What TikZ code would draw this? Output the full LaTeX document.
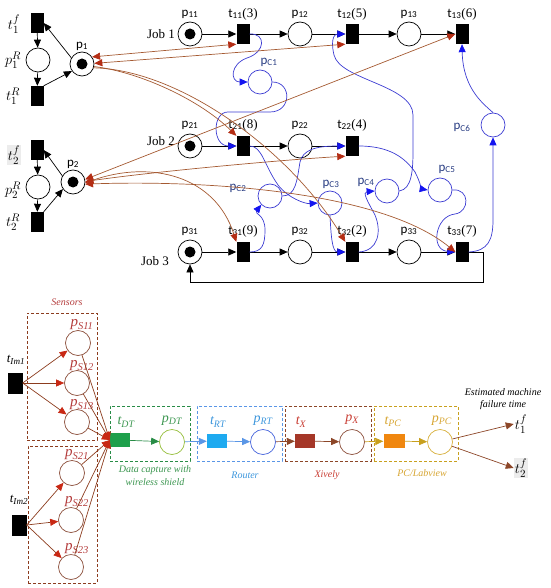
\documentclass[tikz,border=0pt]{standalone}
\usepackage{fontspec}
\setmainfont{Liberation Serif}
\newfontfamily\calfont{Carlito}
\usetikzlibrary{arrows.meta}
\definecolor{barc}{RGB}{60,60,210}
\definecolor{btip}{RGB}{20,20,240}
\definecolor{rarc}{RGB}{165,90,50}
\definecolor{rtip}{RGB}{180,45,20}
\definecolor{pccol}{RGB}{40,60,130}
\definecolor{sline}{RGB}{140,60,30}
\definecolor{stip}{RGB}{200,40,20}
\definecolor{stext}{RGB}{180,60,60}
\definecolor{gfill}{RGB}{30,160,75}
\definecolor{gcirc}{RGB}{150,190,60}
\definecolor{gtext}{RGB}{60,150,80}
\definecolor{gline}{RGB}{40,140,70}
\definecolor{bfill}{RGB}{30,170,240}
\definecolor{bcirc}{RGB}{70,100,220}
\definecolor{btext}{RGB}{60,150,220}
\definecolor{bline}{RGB}{90,150,230}
\definecolor{xfill}{RGB}{165,55,40}
\definecolor{xcirc}{RGB}{140,80,60}
\definecolor{xtext}{RGB}{200,60,50}
\definecolor{xline}{RGB}{140,70,40}
\definecolor{ofill}{RGB}{240,135,15}
\definecolor{ocirc}{RGB}{215,175,60}
\definecolor{otext}{RGB}{215,165,50}
\definecolor{oline}{RGB}{200,160,30}
\newcommand{\pp}[1]{{\calfont p}\textsubscript{\calfont #1}}
\newcommand{\tl}[2]{{\calfont t}\textsubscript{\calfont #1}(#2)}
\tikzset{
 place/.style={circle,draw,line width=0.7pt,minimum size=24pt,inner sep=0pt},
 trans/.style={rectangle,fill=black,minimum width=13pt,minimum height=20pt,inner sep=0pt},
 arr/.style={line width=0.7pt,-{Triangle[length=8pt,width=7pt]}},
 blarc/.style={draw=barc,line width=0.7pt,-{Triangle[length=8pt,width=7pt,color=btip]}},
 brone/.style={draw=rarc,line width=0.7pt,-{Triangle[length=8pt,width=7pt,color=rtip]}},
 brtwo/.style={draw=rarc,line width=0.7pt,{Triangle[length=8pt,width=7pt,color=rtip]}-{Triangle[length=8pt,width=7pt,color=rtip]}},
 lab/.style={inner sep=1pt},
 mlab/.style={inner sep=1pt,font=\fontsize{15}{17}\selectfont},
 sbox/.style={draw=#1,dashed,dash pattern=on 3pt off 2pt,line width=0.6pt,inner sep=0pt},
 bplace/.style={circle,draw=#1,line width=0.7pt,minimum size=25pt,inner sep=0pt},
 btrans/.style={rectangle,fill=#1,minimum width=20pt,minimum height=14pt,inner sep=0pt},
 carr/.style={draw=#1,line width=0.7pt,-{Triangle[length=8pt,width=7pt,color=#1]}},
 sarr/.style={draw=sline,line width=0.7pt,-{Triangle[length=8pt,width=7pt,color=stip]}},
 itl/.style={font=\fontsize{10}{12}\selectfont\itshape,inner sep=0pt}
}
\begin{document}
\begin{tikzpicture}[x=1pt,y=-1pt,font=\fontsize{13}{15}\selectfont]
\useasboundingbox (0,0) rectangle (550,588);

% ---------- resource loops ----------
\node[trans] (t1f) at (37,23) {};
\node[place] (p1R) at (38,60) {};
\node[trans] (t1R) at (37,96) {};
\node[place] (p1) at (82,64) {};
\fill (p1.center) circle[radius=5.5pt];
\node[trans] (t2f) at (37,150) {};
\node[place] (p2R) at (38,187) {};
\node[trans] (t2R) at (37,222) {};
\node[place] (p2) at (73,182) {};
\fill (p2.center) circle[radius=5.5pt];

\node[mlab] (l1f) at (14,24) {$t_1^f$};
\node[mlab] (l1R) at (13,60) {$p_1^R$};
\node[mlab] (l1tR) at (13,96) {$t_1^R$};
\node[mlab,fill=gray!15] (l2f) at (14,155) {$t_2^f$};
\node[mlab] (l2R) at (13,190) {$p_2^R$};
\node[mlab] (l2tR) at (13,222) {$t_2^R$};
\node[lab] (lp1) at (82,46) {\pp{1}};
\node[lab] (lp2) at (73,164) {\pp{2}};

\draw[arr] (t1f) -- (p1R);
\draw[arr] (p1R) -- (t1R);
\draw[arr] (t1R.north east) -- (p1.215);
\draw[arr] (p1.150) -- (t1f.east);
\draw[arr] (t2f) -- (p2R);
\draw[arr] (p2R) -- (t2R);
\draw[arr] (t2R.north east) -- (p2.215);
\draw[arr] (p2.150) -- (t2f.east);

% ---------- job rows ----------
\node[place] (p11) at (190,34) {};
\fill (p11.center) circle[radius=5.5pt];
\node[trans] (t11) at (243,34) {};
\node[place] (p12) at (300,34) {};
\node[trans] (t12) at (352,34) {};
\node[place] (p13) at (409,34) {};
\node[trans] (t13) at (462,34) {};

\node[place] (p21) at (190,146) {};
\fill (p21.center) circle[radius=5.5pt];
\node[trans] (t21) at (243,146) {};
\node[place] (p22) at (300,146) {};
\node[trans] (t22) at (352,146) {};

\node[place] (p31) at (190,252) {};
\fill (p31.center) circle[radius=5.5pt];
\node[trans] (t31) at (243,252) {};
\node[place] (p32) at (300,252) {};
\node[trans] (t32) at (352,252) {};
\node[place] (p33) at (409,252) {};
\node[trans] (t33) at (462,252) {};

\node[lab] (j1) at (161,34) {Job 1};
\node[lab] (j2) at (161,141) {Job 2};
\node[lab] (j3) at (155,261) {Job 3};

\node[lab] (lp11) at (190,14) {\pp{11}};
\node[lab] (lt11) at (243,14) {\tl{11}{3}};
\node[lab] (lp12) at (300,14) {\pp{12}};
\node[lab] (lt12) at (352,14) {\tl{12}{5}};
\node[lab] (lp13) at (409,14) {\pp{13}};
\node[lab] (lt13) at (462,14) {\tl{13}{6}};
\node[lab] (lp21) at (190,125) {\pp{21}};
\node[lab] (lt21) at (243,125) {\tl{21}{8}};
\node[lab] (lp22) at (300,125) {\pp{22}};
\node[lab] (lt22) at (352,125) {\tl{22}{4}};
\node[lab] (lp31) at (190,231) {\pp{31}};
\node[lab] (lt31) at (243,231) {\tl{31}{9}};
\node[lab] (lp32) at (300,231) {\pp{32}};
\node[lab] (lt32) at (352,231) {\tl{32}{2}};
\node[lab] (lp33) at (409,231) {\pp{33}};
\node[lab] (lt33) at (462,231) {\tl{33}{7}};

\foreach \a/\b in {p11/t11,t11/p12,p12/t12,t12/p13,p13/t13,p21/t21,t21/p22,p22/t22,p31/t31,t31/p32,p32/t32,t32/p33,p33/t33}
  \draw[arr] (\a) -- (\b);
\coordinate (loop) at (483,282);
\draw[arr] (t33.east) -| (loop) -| (p31.south);

% ---------- control places ----------
\node[place,draw=barc] (pC1) at (260,82) {};
\node[place,draw=barc] (pC2) at (270,196) {};
\node[place,draw=barc] (pC3) at (330,203) {};
\node[place,draw=barc] (pC4) at (387,191) {};
\node[place,draw=barc] (pC5) at (440,190) {};
\node[place,draw=barc] (pC6) at (493,125) {};
\node[lab,text=pccol] (lC1) at (269,62) {\pp{C1}};
\node[lab,text=pccol] (lC2) at (238,188) {\pp{C2}};
\node[lab,text=pccol] (lC3) at (331,184) {\pp{C3}};
\node[lab,text=pccol] (lC4) at (366,182) {\pp{C4}};
\node[lab,text=pccol] (lC5) at (447,169) {\pp{C5}};
\node[lab,text=pccol] (lC6) at (462,127) {\pp{C6}};

\draw[blarc] (t11.east) .. controls (266,33) and (266,52) .. (247,58) .. controls (230,64) and (230,82) .. (pC1.west);
\draw[blarc] (pC1.east) .. controls (292,82) and (292,112) .. (270,112) -- (228,112) .. controls (212,112) and (212,146) .. (t21.west);
\draw[blarc] (pC4.east) .. controls (412,189) and (413,170) .. (413,150) -- (413,115) .. controls (413,85) and (340,80) .. (334,55) .. controls (330,38) and (335,34) .. (t12.west);
\draw[blarc] (t21.east) .. controls (262,146) and (264,165) .. (278,185) .. controls (288,198) and (305,204) .. (pC3.west);
\draw[blarc] (pC2.east) .. controls (296,196) and (297,180) .. (300,162) .. controls (303,150) and (315,146) .. (t22.west);
\draw[blarc] (t22.east) .. controls (390,146) and (405,158) .. (415,172) .. controls (420,182) and (422,189) .. (pC5.west);
\draw[blarc] (t32.east) .. controls (378,251) and (382,232) .. (375,215) .. controls (368,202) and (362,192) .. (pC4.west);
\draw[blarc] (pC5.east) .. controls (470,188) and (470,212) .. (455,214) .. controls (435,216) and (430,250) .. (t33.west);
\draw[blarc] (t33.east) .. controls (488,251) and (493,240) .. (493,220) -- (pC6.south);
\draw[blarc] (pC6.north) .. controls (485,105) and (463,90) .. (t13.south);
\draw[blarc] (t31.east) .. controls (262,252) and (265,245) .. (265,230) .. controls (265,214) and (254,214) .. (pC2.225);
\draw[blarc] (pC3.south) .. controls (331,235) and (332,252) .. (t32.west);

% ---------- resource arcs ----------
\draw[brtwo] (p1.35) -- (t11.south west);
\draw[brtwo] (p1.3) -- (t12.south west);
\draw[brone] (p1.-12) .. controls (140,72) and (200,100) .. (t21.north west);
\draw[brone] (p1.-18) .. controls (180,70) and (290,150) .. (t32.north west);
\draw[brtwo] (p2.12) -- (t13.west);
\draw[brtwo] (p2.2) .. controls (150,172) and (280,160) .. (t22.south west);
\draw[brtwo] (p2.-4) .. controls (150,160) and (215,175) .. (t31.north west);
\draw[brtwo] (p2.-10) .. controls (200,180) and (380,190) .. (t33.west);

% ---------- bottom: sensors ----------
\node[sbox=sline,minimum width=70pt,minimum height=127pt] (box1) at (62,376.5) {};
\node[sbox=sline,minimum width=69pt,minimum height=137pt] (box2) at (62.5,514.5) {};
\node[itl,text=stext] (lsens) at (67,302) {Sensors};

\node[trans,minimum width=15pt,minimum height=21pt] (tIm1) at (15,383) {};
\node[trans,minimum width=15pt,minimum height=21pt] (tIm2) at (19,525) {};
\node[lab,font=\fontsize{13}{15}\selectfont\itshape] (ltIm1) at (16,360) {t\textsubscript{Im1}};
\node[lab,font=\fontsize{13}{15}\selectfont\itshape] (ltIm2) at (19,500) {t\textsubscript{Im2}};

\node[bplace=xcirc] (pS11) at (78,343) {};
\node[bplace=xcirc] (pS12) at (77,383) {};
\node[bplace=xcirc] (pS13) at (77,422) {};
\node[bplace=xcirc] (pS21) at (72,473) {};
\node[bplace=xcirc] (pS22) at (71,520) {};
\node[bplace=xcirc] (pS23) at (71,567) {};
\foreach \n/\x/\y in {11/82/325,12/82/366,13/82/405,21/77/455,22/77/502,23/77/549}
  \node[lab,text=stext,font=\fontsize{15}{17}\selectfont\itshape] (lS\n) at (\x,\y) {p\textsubscript{S\n}};

\foreach \s in {11,12,13} \draw[sarr] (tIm1.east) -- (pS\s);
\foreach \s in {21,22,23} \draw[sarr] (tIm2.east) -- (pS\s);

% ---------- bottom: chain ----------
\node[sbox=gline,minimum width=80pt,minimum height=55pt] (gbox) at (150,433.5) {};
\node[sbox=bline,minimum width=85pt,minimum height=55pt] (bbox) at (239.5,433.5) {};
\node[sbox=xline,minimum width=86pt,minimum height=55pt] (xbox) at (328,433.5) {};
\node[sbox=oline,minimum width=84pt,minimum height=55pt] (obox) at (416,433.5) {};

\node[btrans=gfill] (tDT) at (120,440) {};
\node[bplace=gcirc] (pDT) at (172,442) {};
\node[btrans=bfill] (tRT) at (217,441) {};
\node[bplace=bcirc] (pRT) at (263,442) {};
\node[btrans=xfill] (tX) at (305,441) {};
\node[bplace=xcirc] (pX) at (352,442) {};
\node[btrans=ofill,minimum width=21pt] (tPC) at (394,441) {};
\node[bplace=ocirc] (pPC) at (440,442) {};

\foreach \s in {11,12,13,21,22,23} \draw[sarr] (pS\s) -- (tDT.west);

\draw[carr=gline] (tDT) -- (pDT);
\draw[carr=bline] (pDT) -- (tRT);
\draw[carr=bline] (tRT) -- (pRT);
\draw[carr=xline] (pRT) -- (tX);
\draw[carr=xline] (tX) -- (pX);
\draw[carr=oline] (pX) -- (tPC);
\draw[carr=oline] (tPC) -- (pPC);

\node[lab,text=gtext,font=\fontsize{14}{16}\selectfont\itshape] (ltDT) at (126,422) {t\textsubscript{DT}};
\node[lab,text=gtext,font=\fontsize{14}{16}\selectfont\itshape] (lpDT) at (172,421) {p\textsubscript{DT}};
\node[lab,text=btext,font=\fontsize{14}{16}\selectfont\itshape] (ltRT) at (218,422) {t\textsubscript{RT}};
\node[lab,text=btext,font=\fontsize{14}{16}\selectfont\itshape] (lpRT) at (263,421) {p\textsubscript{RT}};
\node[lab,text=xtext,font=\fontsize{14}{16}\selectfont\itshape] (ltX) at (301,422) {t\textsubscript{X}};
\node[lab,text=xtext,font=\fontsize{14}{16}\selectfont\itshape] (lpX) at (352,420) {p\textsubscript{X}};
\node[lab,text=otext,font=\fontsize{14}{16}\selectfont\itshape] (ltPC) at (393,422) {t\textsubscript{PC}};
\node[lab,text=otext,font=\fontsize{14}{16}\selectfont\itshape] (lpPC) at (442,421) {p\textsubscript{PC}};

\node[itl,text=gtext] (dc1) at (155,470) {Data capture with};
\node[itl,text=gtext] (dc2) at (155,482) {wireless shield};
\node[itl,text=btext] (rt) at (245,475) {Router};
\node[itl,text=xtext] (xv) at (327,475) {Xively};
\node[itl,text=otext] (pcl) at (422,473) {PC/Labview};

\node[mlab,fill=white] (ft1) at (521,424) {$t_1^f$};
\node[mlab,fill=gray!15] (ft2) at (521,468) {$t_2^f$};
\draw[carr=xline] (pPC) -- (ft1.west);
\draw[carr=xline] (pPC) -- (ft2.west);
\node[itl] (em1) at (503,392) {Estimated machine};
\node[itl] (em2) at (503,405) {failure time};
\end{tikzpicture}
\end{document}
